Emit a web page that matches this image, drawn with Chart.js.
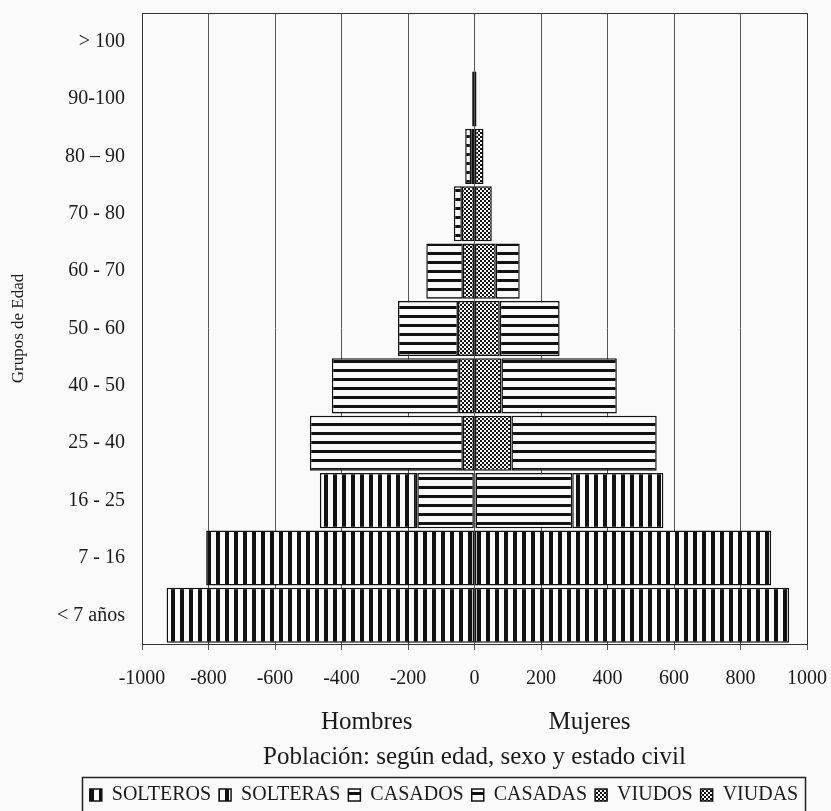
<!DOCTYPE html>
<html>
<head>
<meta charset="utf-8">
<script src="https://cdn.jsdelivr.net/npm/chart.js@4/dist/chart.umd.min.js"></script>
<style>
  body { margin: 0; background: #fafafa; }
  #wrap { width: 831px; height: 811px; }
</style>
</head>
<body>
<div id="wrap"><canvas id="myChart"></canvas></div>
<script>
// age groups, bottom to top
const ageGroups = ['< 7 años', '7 - 16', '16 - 25', '25 - 40', '40 - 50', '50 - 60',
  '60 - 70', '70 - 80', '80 – 90', '90-100', '> 100'];

// men (drawn to the left) and women (to the right)
const solteros = [926, 807, 293, 0, 0, 0, 0, 0, 0, 0, 0];
const solteras = [946, 892, 274, 0, 0, 0, 0, 0, 0, 0, 0];
const casados = [0, 0, 170, 460, 382, 180, 110, 24, 18, 0, 0];
const casadas = [0, 0, 291, 437, 347, 180, 72, 0, 0, 0, 0];
const viudos = [0, 0, 2, 35, 47, 50, 35, 38, 10, 7, 0];
const viudas = [0, 0, 3, 111, 81, 76, 64, 52, 27, 6, 2];

const xTicks = [-1000, -800, -600, -400, -200, 0, 200, 400, 600, 800, 1000];

const serif = "'Liberation Serif', 'Times New Roman', serif";
Chart.defaults.font.family = serif;
Chart.defaults.color = "#1a1a1a";

function pattern(w, h, draw) {
  let c = document.createElement("canvas");
  c.width = w;
  c.height = h;
  let g = c.getContext("2d");
  g.fillStyle = "#fafafa";
  g.fillRect(0, 0, w, h);
  g.fillStyle = "#111";
  draw(g);
  return g.createPattern(c, "repeat");
}

let vStripes = pattern(9, 9, (g) => g.fillRect(0, 0, 4, 9));
let hStripes = pattern(9, 9, (g) => g.fillRect(0, 0, 9, 3));
let checks = pattern(4, 4, (g) => {
  g.fillRect(0, 0, 2, 2);
  g.fillRect(2, 2, 2, 2);
});

function neg(arr) {
  return arr.map((v) => -v);
}

function ds(label, data, fill, order) {
  return {
    label: label,
    data: data,
    backgroundColor: fill,
    borderColor: "#111",
    borderWidth: 1.5,
    borderSkipped: false,
    order: order,
  };
}

// extra bits: plot frame, Hombres / Mujeres, legend frame
const extras = {
  id: "extras",
  afterLayout(chart) {
    let lg = chart.legend;
    lg.left = 68;
    lg.right = 820;
    lg.width = 752;
    lg.top += 4;
    lg.bottom += 4;
  },
  beforeDatasetsDraw(chart) {
    let { ctx, chartArea: a } = chart;
    ctx.save();
    ctx.strokeStyle = "#333";
    ctx.lineWidth = 1;
    ctx.strokeRect(a.left + 0.5, a.top + 0.5, a.right - a.left, a.bottom - a.top);
    ctx.restore();
  },
  afterDraw(chart) {
    let ctx = chart.ctx;
    let x = chart.scales.x;
    ctx.save();
    ctx.fillStyle = "#1a1a1a";
    ctx.font = "25px " + serif;
    ctx.textAlign = "center";
    ctx.textBaseline = "middle";
    ctx.fillText("Hombres", x.getPixelForValue(-324), x.top + 78);
    ctx.fillText("Mujeres", x.getPixelForValue(346), x.top + 78);
    ctx.strokeStyle = "#222";
    ctx.lineWidth = 1.5;
    ctx.strokeRect(82.5, 777.5, 723, 60);
    ctx.restore();
  },
};

var myChart = new Chart(document.getElementById("myChart"), {
  type: "bar",
  data: {
    labels: ageGroups,
    datasets: [
      ds("SOLTEROS", neg(solteros), vStripes, 5),
      ds("SOLTERAS", solteras, vStripes, 6),
      ds("CASADOS", neg(casados), hStripes, 3),
      ds("CASADAS", casadas, hStripes, 4),
      ds("VIUDOS", neg(viudos), checks, 1),
      ds("VIUDAS", viudas, checks, 2),
    ],
  },
  options: {
    indexAxis: "y",
    responsive: true,
    maintainAspectRatio: false,
    animation: false,
    barPercentage: 0.96,
    categoryPercentage: 1,
    layout: { padding: { top: 13, right: 24, left: 0, bottom: 0 } },
    plugins: {
      tooltip: { enabled: false },
      legend: {
        position: "bottom",
        labels: {
          boxWidth: 12,
          boxHeight: 12,
          padding: 8,
          color: "#1a1a1a",
          font: { size: 20 },
          sort: (a, b) => a.datasetIndex - b.datasetIndex,
        },
      },
    },
    scales: {
      x: {
        stacked: true,
        min: -1000,
        max: 1000,
        afterBuildTicks: (scale) => {
          scale.ticks = xTicks.map((v) => ({ value: v }));
        },
        afterFit: (scale) => {
          scale.height = 129;
        },
        ticks: {
          font: { size: 20, lineHeight: 2.9 },
          color: "#1a1a1a",
          padding: 0,
          maxRotation: 0,
          callback: (v) => String(v),
        },
        grid: {
          color: "#555",
          lineWidth: 1,
          tickLength: 6,
          drawTicks: true,
        },
        border: { color: "#333", width: 1 },
        title: {
          display: true,
          text: "Población: según edad, sexo y estado civil",
          font: { size: 25 },
          color: "#1a1a1a",
          padding: { top: 0, bottom: 1 },
        },
      },
      y: {
        stacked: true,
        reverse: true,
        afterFit: (scale) => {
          scale.width = 142;
        },
        ticks: {
          font: { size: 20 },
          color: "#1a1a1a",
          padding: 0,
        },
        grid: { display: false, drawTicks: true, tickLength: 17 },
        border: { color: "#333", width: 1 },
        title: {
          display: true,
          text: "Grupos de Edad",
          font: { size: 17 },
          color: "#1a1a1a",
          padding: { top: 8, bottom: 0 },
        },
      },
    },
  },
  plugins: [extras],
});
</script>
</body>
</html>
